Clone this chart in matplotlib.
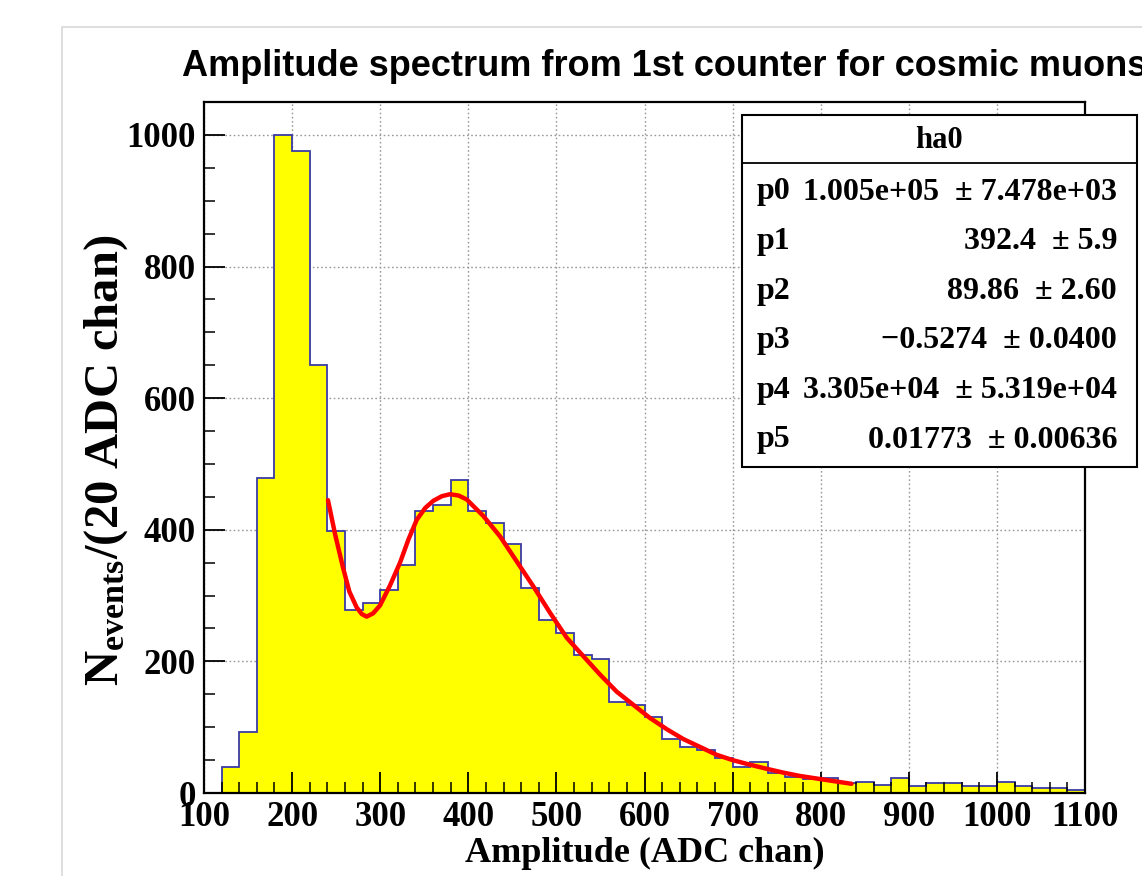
import numpy as np
import matplotlib
matplotlib.use('Agg')
import matplotlib.pyplot as plt
from matplotlib.patches import Rectangle

# histogram: 20 ADC channel bins from 100 to 1100
bin_edges = np.arange(100, 1101, 20)
counts = [0, 39, 92, 478, 1000, 975, 651, 398, 278, 288,
          309, 346, 429, 437, 476, 429, 410, 378, 312, 263,
          243, 210, 204, 139, 134, 116, 82, 70, 66, 53,
          40, 47, 30, 25, 22, 23, 15, 16, 12, 23,
          10, 15, 15, 10, 10, 16, 10, 7, 7, 5]

# fit curve
fit_x = [240.7, 249, 257.7, 265, 273.3, 279, 284.6, 292, 299.8, 311, 322.5, 332,
         341.4, 351, 360.3, 370, 379.2, 389, 398.2, 417, 436, 454.9, 473.8,
         492.7, 511.7, 530.5, 549.5, 568.4, 587.3, 606.2, 625.2, 644, 663,
         681.9, 700, 719.7, 738, 757.5, 776, 795.4, 815, 835]
fit_y = [445, 392, 343, 306, 282, 272, 268, 273, 285, 315, 350, 385,
         415, 433, 444, 451, 454, 452, 446, 421, 390, 352, 314,
         274, 236, 208, 180, 154, 134, 114, 97, 82, 70,
         58, 50, 43, 37, 31, 26, 22, 18, 14]

param_names = ['p0', 'p1', 'p2', 'p3', 'p4', 'p5']
param_vals = ['1.005e+05', '392.4', '89.86', '\u22120.5274', '3.305e+04', '0.01773']
param_errs = ['7.478e+03', '5.9', '2.60', '0.0400', '5.319e+04', '0.00636']

plt.rcParams['mathtext.fontset'] = 'custom'
plt.rcParams['mathtext.rm'] = 'Liberation Serif:bold'
plt.rcParams['mathtext.bf'] = 'Liberation Serif:bold'
plt.rcParams['mathtext.it'] = 'Liberation Serif:bold:italic'

W, H = 1142, 876
fig = plt.figure(figsize=(W / 100, H / 100), dpi=100)
ax = fig.add_axes([204 / W, 1 - 793 / H, (1085 - 204) / W, (793 - 102) / H])

# canvas border
fig.patches.append(Rectangle((62 / W, -0.1), 1, 1 - 27 / H + 0.1, transform=fig.transFigure,
                             fill=False, edgecolor='#d8d8d8', lw=1.2))

# grid
for xv in range(100, 1101, 100):
    ax.axvline(xv, color='#999999', lw=1.0, ls=(0, (1.2, 1.8)), zorder=0.3)
for yv in range(0, 1001, 200):
    ax.axhline(yv, color='#999999', lw=1.0, ls=(0, (1.2, 1.8)), zorder=0.3)

ax.stairs(counts, bin_edges, fill=True, color='#ffff00', zorder=1)
ax.stairs(counts, bin_edges, color='#3a3aa8', lw=1.3, zorder=1.2)
ax.plot(fit_x, fit_y, color='#ff0000', lw=3.2, zorder=3, solid_capstyle='round')

ax.set_xlim(100, 1100)
ax.set_ylim(0, 1050)
ax.set_xticks(range(100, 1101, 100))
ax.set_xticks(range(100, 1101, 20), minor=True)
ax.set_yticks(range(0, 1001, 200))
ax.set_yticks(range(0, 1051, 50), minor=True)
ax.tick_params(which='major', direction='in', length=15, width=1.3, pad=6)
ax.tick_params(which='minor', direction='in', length=8, width=1.1)
ax.tick_params(axis='x', which='both', top=False)
ax.tick_params(axis='y', which='both', right=False)
for lab in ax.get_xticklabels() + ax.get_yticklabels():
    lab.set_fontfamily('Liberation Serif')
    lab.set_fontweight('bold')
    lab.set_fontsize(25)
for sp in ax.spines.values():
    sp.set_linewidth(1.6)
    sp.set_zorder(4)

fig.text(182 / W, 1 - 67 / H, 'Amplitude spectrum from 1st counter for cosmic muons',
         family='Liberation Sans', weight='bold', fontsize=26,
         ha='left', va='center')
fig.text(645 / W, 1 - 853 / H, 'Amplitude (ADC chan)', family='Liberation Serif',
         weight='bold', fontsize=26, ha='center', va='center')
fig.text(106 / W, 1 - 460 / H, r'$\mathbf{N}_{\mathbf{events}}$/(20 ADC chan)',
         family='Liberation Serif', weight='bold', fontsize=35, rotation=90,
         ha='center', va='center')

# stats box
bx0, bx1, by0, by1 = 742 / W, 1137 / W, 1 - 467 / H, 1 - 115 / H
fig.patches.append(Rectangle((bx0, by0), bx1 - bx0, by1 - by0, transform=fig.transFigure,
                             facecolor='white', edgecolor='black', lw=1.5, zorder=5))
fig.lines.append(plt.Line2D([bx0, bx1], [1 - 163 / H] * 2, transform=fig.transFigure,
                            color='black', lw=1.3, zorder=6))
fig.text((bx0 + bx1) / 2, 1 - 140 / H, 'ha0', family='Liberation Serif', weight='bold',
         fontsize=22, ha='center', va='center', zorder=7)
for i, (n, v, e) in enumerate(zip(param_names, param_vals, param_errs)):
    yy = 1 - (192 + 49.6 * i) / H
    fig.text(757 / W, yy, n, family='Liberation Serif', weight='bold', fontsize=23,
             ha='left', va='center', zorder=7)
    fig.text(1117 / W, yy, v + '  \u00b1 ' + e, family='Liberation Serif', weight='bold',
             fontsize=23, ha='right', va='center', zorder=7)

fig.savefig('out.png', dpi=100)
